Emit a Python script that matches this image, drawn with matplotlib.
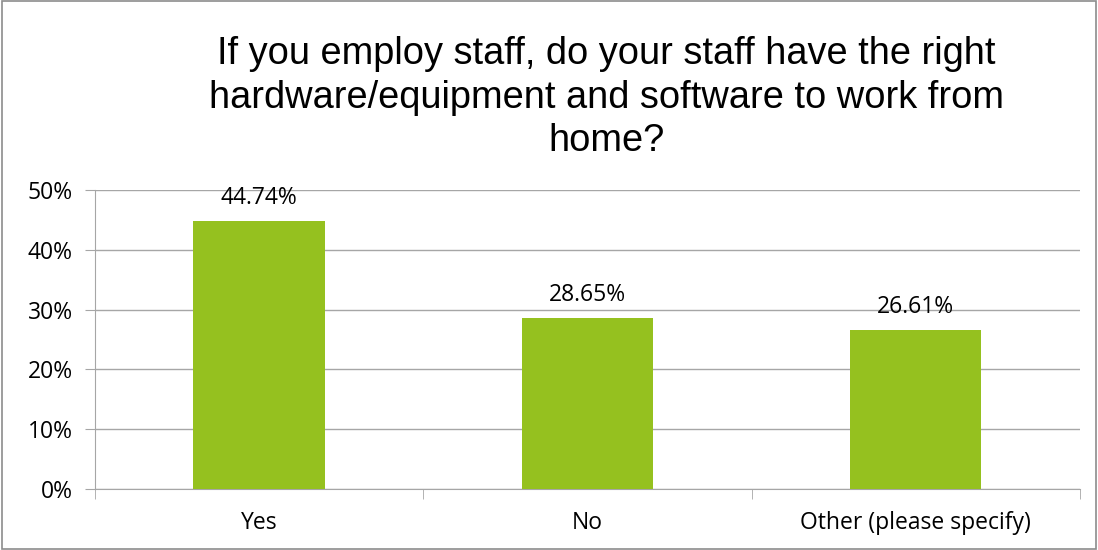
import numpy as np
import matplotlib.pyplot as plt
from matplotlib.patches import Rectangle

categories = ["Yes", "No", "Other (please specify)"]
values = [44.74, 28.65, 26.61]
yticks = [0, 10, 20, 30, 40, 50]
title = ("If you employ staff, do your staff have the right\n"
         "hardware/equipment and software to work from\nhome?")

bar_color = "#95C11F"
grid_color = "#A6A6A6"
label_font = "Open Sans"

fig = plt.figure(figsize=(10.98, 5.5), dpi=100)
ax = fig.add_axes([0.0865, 0.111, 0.8971, 0.5435])

x = np.arange(len(categories))
ax.bar(x, values, width=0.4, color=bar_color, zorder=3)
for xi, v in zip(x, values):
    ax.annotate("%.2f%%" % v, (xi, v), xytext=(0, 8), textcoords="offset points",
                ha="center", va="bottom", fontsize=16.5, family=label_font, color="#000000")

ax.set_xlim(-0.5, len(categories) - 0.5)
ax.set_ylim(0, 50)
ax.set_yticks(yticks)
ax.set_yticklabels(["%d%%" % t for t in yticks], fontsize=16.5, family=label_font)
ax.set_xticks(x)
ax.set_xticklabels(categories, fontsize=16.5, family=label_font)
ax.set_xticks(np.arange(-0.5, len(categories)), minor=True)
ax.tick_params(axis="x", which="major", length=0, pad=16)
ax.tick_params(axis="x", which="minor", length=7, color=grid_color, direction="out")
ax.tick_params(axis="y", length=7, color=grid_color, pad=9)
ax.grid(axis="y", color=grid_color, linewidth=1, zorder=0)
for side in ["top", "right"]:
    ax.spines[side].set_visible(False)
for side in ["left", "bottom"]:
    ax.spines[side].set_color(grid_color)

fig.text(0.552, 0.822, title, ha="center", va="center", fontsize=27.4,
         family="Liberation Sans", linespacing=1.27)

fig.patches.append(Rectangle((0.002, 0.002), 0.996, 0.996, transform=fig.transFigure,
                             fill=False, edgecolor="#8C8C8C", linewidth=1.2))

fig.savefig("out.png", dpi=100)
